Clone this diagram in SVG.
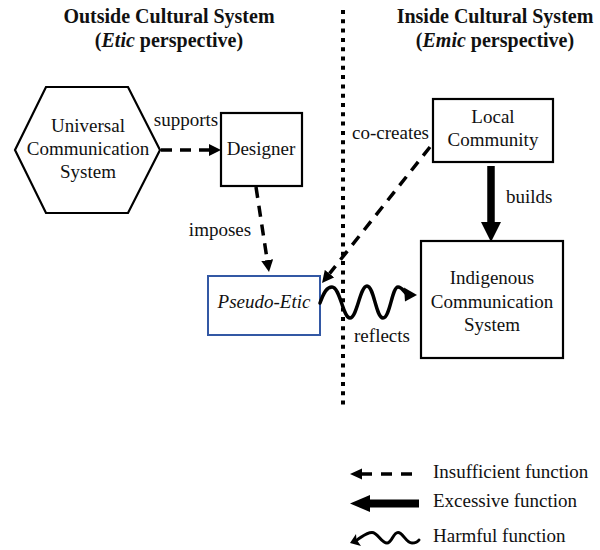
<svg xmlns="http://www.w3.org/2000/svg" width="600" height="550" viewBox="0 0 600 550">
  <style>
    text { font-family: "Liberation Serif", "Times New Roman", serif; fill: #111; }
    .t { font-size: 19px; text-anchor: middle; }
    .l { font-size: 19px; }
    .title { font-size: 20px; font-weight: bold; text-anchor: middle; }
    .node { fill: #fff; stroke: #000; stroke-width: 2.2; }
    .blue { fill: #fff; stroke: #3358a4; stroke-width: 2; }
    .dash { fill: none; stroke: #000; stroke-width: 3.5; stroke-dasharray: 11 8; }
    .thick { fill: none; stroke: #000; stroke-width: 7.5; }
    .wave { fill: none; stroke: #000; stroke-width: 3.5; stroke-linecap: round; }
    .head { fill: #000; }
    .divider { fill: none; stroke: #000; stroke-width: 4; stroke-dasharray: 4 5.3; }
  </style>
  <defs>
    <marker id="ah" viewBox="0 0 12 12" refX="0" refY="6" markerWidth="12" markerHeight="12" markerUnits="userSpaceOnUse" orient="auto">
      <path d="M0,0 L12,6 L0,12 z" fill="#000"/>
    </marker>
  </defs>

  <!-- titles -->
  <g id="title-outside">
    <text class="title" x="169" y="23">Outside Cultural System</text>
    <text class="title" x="169" y="47">(<tspan font-style="italic">Etic</tspan> perspective)</text>
  </g>
  <g id="title-inside">
    <text class="title" x="495" y="23">Inside Cultural System</text>
    <text class="title" x="495" y="47">(<tspan font-style="italic">Emic</tspan> perspective)</text>
  </g>

  <!-- divider -->
  <line id="divider" class="divider" x1="343" y1="10" x2="343" y2="409"/>

  <!-- nodes -->
  <g id="universal">
    <polygon class="node" points="15,150 46,87 128,87 160,150 128,213 46,213"/>
    <text class="t" x="88" y="132">Universal</text>
    <text class="t" x="88" y="155">Communication</text>
    <text class="t" x="88" y="178">System</text>
  </g>
  <g id="designer">
    <rect class="node" x="221" y="113" width="81" height="73"/>
    <text class="t" x="261" y="155">Designer</text>
  </g>
  <g id="local">
    <rect class="node" x="433" y="99" width="120" height="63"/>
    <text class="t" x="493" y="123">Local</text>
    <text class="t" x="493" y="146">Community</text>
  </g>
  <g id="indigenous">
    <rect class="node" x="421" y="241" width="142" height="117"/>
    <text class="t" x="492" y="284">Indigenous</text>
    <text class="t" x="492" y="308">Communication</text>
    <text class="t" x="492" y="331">System</text>
  </g>
  <g id="pseudo">
    <rect class="blue" x="208" y="276" width="112" height="59"/>
    <text class="t" x="264" y="308" font-style="italic" font-size="18">Pseudo-Etic</text>
  </g>

  <!-- connectors -->
  <g id="connectors">
    <path class="dash" d="M161,150 L209,150" marker-end="url(#ah)"/>
    <text class="t" x="186" y="126">supports</text>

    <path class="dash" d="M256,187 L267.2,260.1" marker-end="url(#ah)"/>
    <text class="t" x="220" y="236">imposes</text>

    <path class="dash" d="M430,147 L329.5,273.6" marker-end="url(#ah)"/>
    <text class="t" x="390.5" y="139">co-creates</text>

    <path class="thick" d="M491,166 L491,223"/>
    <polygon class="head" points="481,222 501,222 491,242"/>
    <text class="l" x="506" y="203">builds</text>

    <path class="wave" d="M320,303 C324,292 327,287 332,287 C340,287 343,318 350,318 C357,318 360,286 367,286 C374,286 376,318 383,318 C390,318 392,287 398,287 C402,287 404,292 407,294"/>
    <polygon class="head" points="417,295 404,287.5 405,301.5"/>
    <text class="t" x="382" y="342">reflects</text>
  </g>

  <!-- legend -->
  <g id="legend">
    <path class="dash" d="M361,474 L419,474" style="stroke-dasharray: 11 9"/>
    <polygon class="head" points="350,474 362,468.5 362,479.5"/>
    <text class="l" x="433" y="478">Insufficient function</text>

    <path class="thick" d="M368,503.5 L419,503.5" style="stroke-width:8"/>
    <polygon class="head" points="350,503.5 370,495 370,512"/>
    <text class="l" x="433" y="507">Excessive function</text>

    <path class="wave" d="M419,540 C417,543 415,543 412,543 C406,543 403,532.5 398,532.5 C393,532.5 392,543 387,543 C381,543 378,532.5 372,532.5 C366,532.5 362,537 357,540" style="stroke-width:3"/>
    <polygon class="head" points="350,543 356,534 356.5,539.5 361,546"/>
    <text class="l" x="433" y="542">Harmful function</text>
  </g>
</svg>
